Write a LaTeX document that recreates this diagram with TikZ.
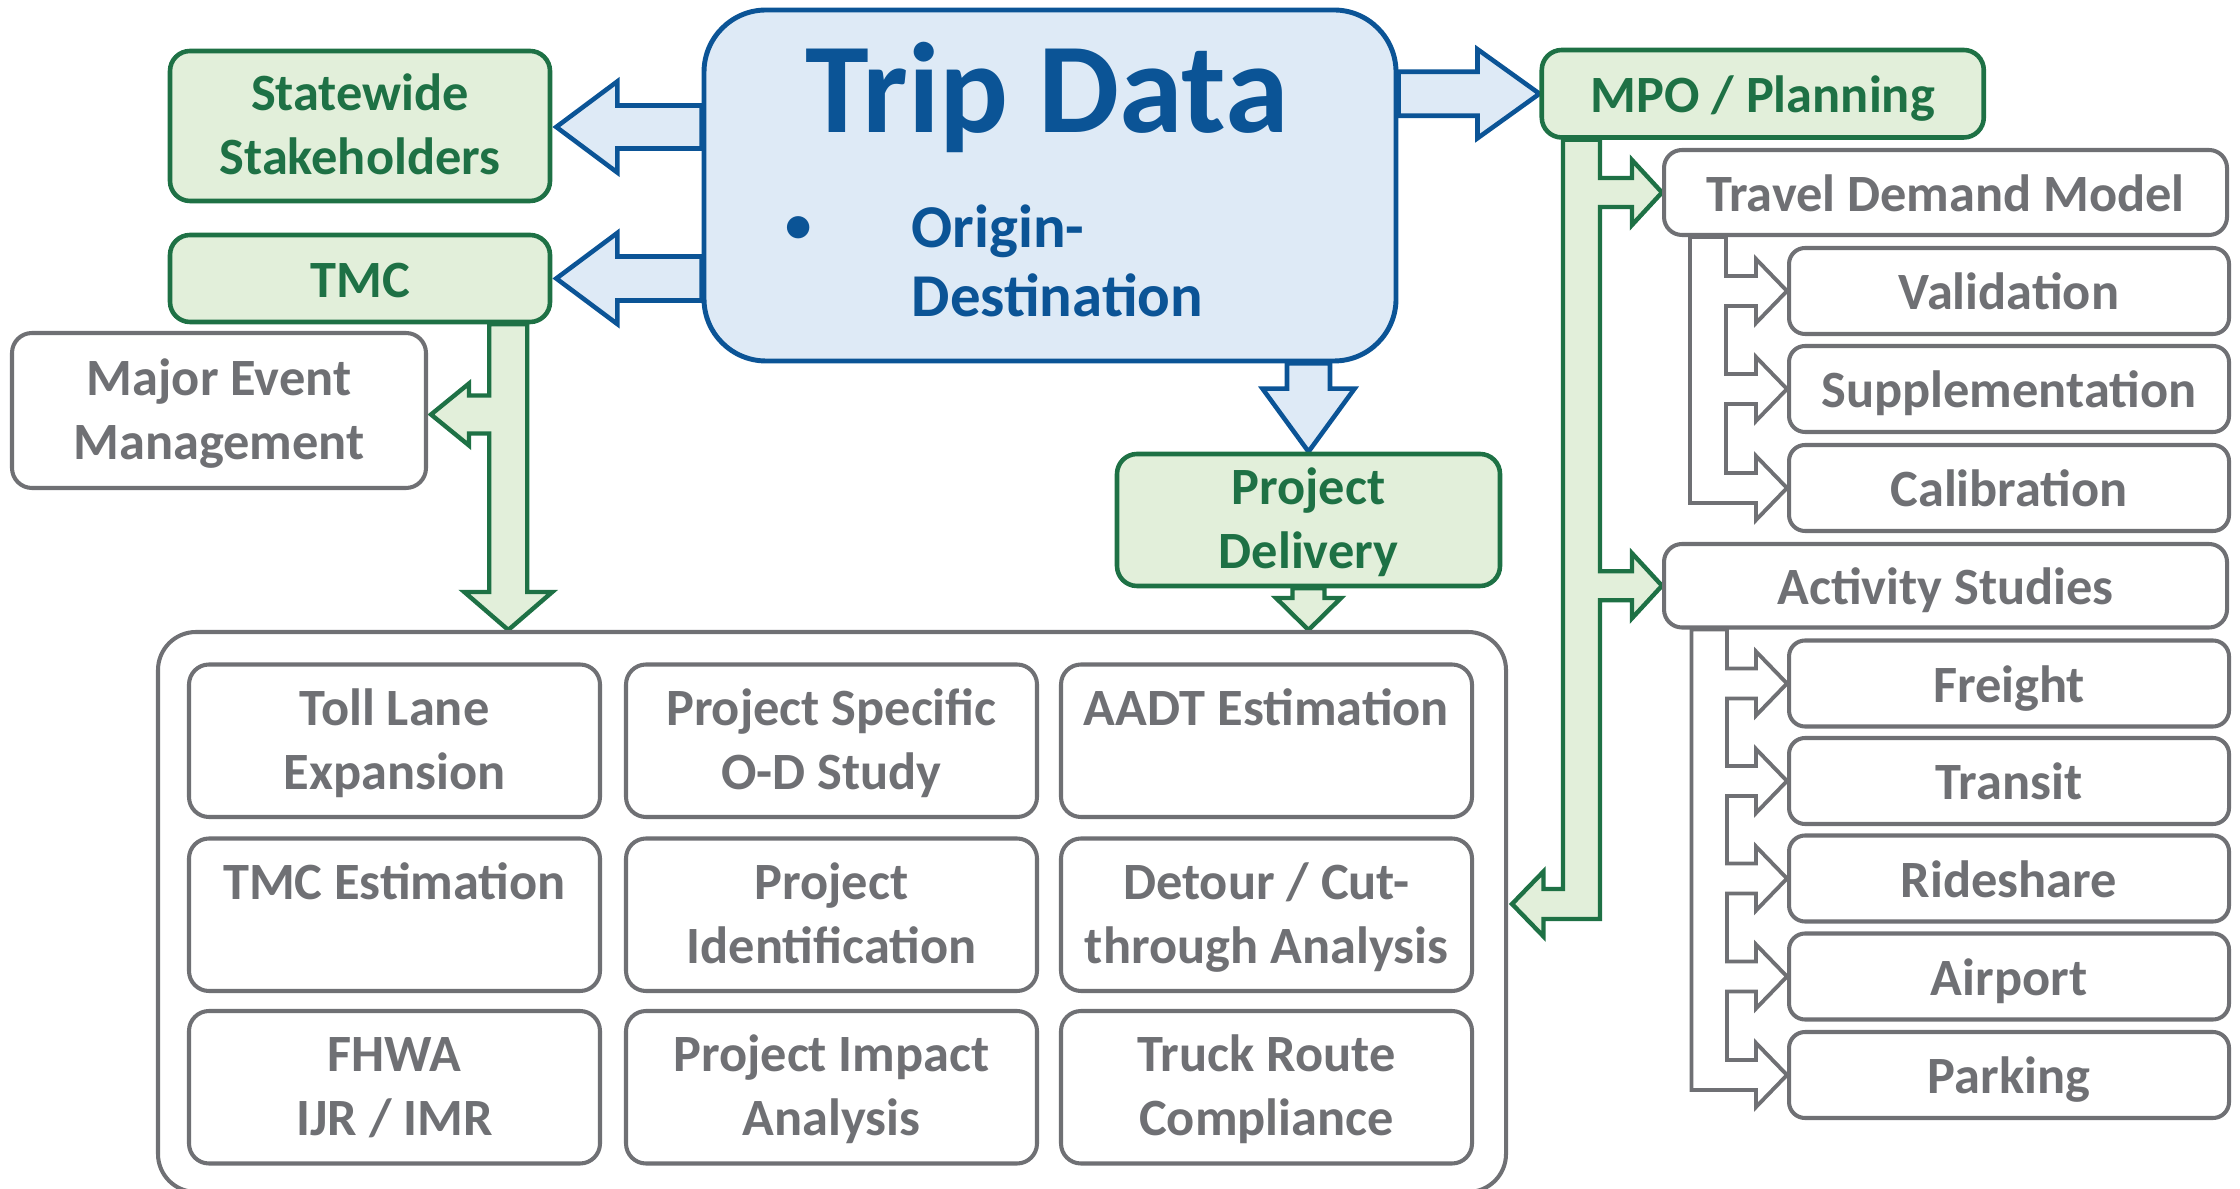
\documentclass[tikz,border=0pt]{standalone}
\usepackage{fontspec}
\setmainfont{Carlito}
\usetikzlibrary{calc,backgrounds}

\definecolor{tdblue}{HTML}{0B5496}
\definecolor{tdbluefill}{HTML}{DEEAF6}
\definecolor{tdgreen}{HTML}{1E7145}
\definecolor{tdgreenfill}{HTML}{E2EFDA}
\definecolor{tdgray}{HTML}{6F7074}

% struts giving every line the same height and depth (two-line and one-line labels)
\newcommand\lstrut{\rule[-3.13pt]{0pt}{15.65pt}}
\newcommand\sstrut{\rule[-2.56pt]{0pt}{15.65pt}}
\newcommand\boxfont{\fontsize{14.9pt}{18.2pt}\selectfont\bfseries}
\newcommand\odfont{\fontsize{17.3pt}{19.6pt}\selectfont\bfseries}
\newcommand\titlefont{\fontsize{36.6pt}{42pt}\selectfont\bfseries}

% horizontal block arrow: style, anchor giving the shaft start x, tip, shaft half, head half, head length (+ = right)
\newcommand\hblockarrow[6]{%
  \draw[#1] ($(#2 |- #3)+(0,{-(#4)})$) -- ($(#3)+({-(#6)},{-(#4)})$) -- ($(#3)+({-(#6)},{-(#5)})$) -- (#3)
    -- ($(#3)+({-(#6)},#5)$) -- ($(#3)+({-(#6)},#4)$) -- ($(#2 |- #3)+(0,#4)$) -- cycle;}
% vertical block arrow pointing down: style, anchor giving the shaft start y, tip, shaft half, head half, head length
\newcommand\vblockarrow[6]{%
  \draw[#1] ($(#2 -| #3)+({-(#4)},0)$) -- ($(#3)+({-(#4)},{-(#6)})$) -- ($(#3)+({-(#5)},{-(#6)})$) -- (#3)
    -- ($(#3)+(#5,{-(#6)})$) -- ($(#3)+(#4,{-(#6)})$) -- ($(#2 -| #3)+(#4,0)$) -- cycle;}
% branch to the right out of a trunk's right edge (walked upwards)
\newcommand\rnotch[5]{-- ($(#1 |- #2)+(0,#3)$) -- ($(#2)+({-(#5)},#3)$) -- ($(#2)+({-(#5)},#4)$) -- (#2)
    -- ($(#2)+({-(#5)},{-(#4)})$) -- ($(#2)+({-(#5)},{-(#3)})$) -- ($(#1 |- #2)+(0,{-(#3)})$)}
% branch to the left out of a trunk's left edge (walked downwards)
\newcommand\lnotch[5]{-- ($(#1 |- #2)+(0,{-(#3)})$) -- ($(#2)+(#5,{-(#3)})$) -- ($(#2)+(#5,{-(#4)})$) -- (#2)
    -- ($(#2)+(#5,#4)$) -- ($(#2)+(#5,#3)$) -- ($(#1 |- #2)+(0,#3)$)}

\tikzset{
  boxsize/.style 2 args={minimum width=#1*0.01cm, minimum height=#2*0.01cm},
  greenbox/.style={draw=tdgreen, fill=tdgreenfill, line width=1.3pt, rounded corners=0.2cm,
    text=tdgreen, font=\boxfont, align=center, inner sep=0pt},
  graybox/.style={draw=tdgray, fill=white, line width=1.15pt, rounded corners=0.2cm,
    text=tdgray, font=\boxfont, align=center, inner sep=0pt},
  subbox/.style={graybox, rounded corners=0.16cm, boxsize={440}{86}},
  usebox/.style={graybox, boxsize={411}{152.5}},
  bluearrow/.style={draw=tdblue, fill=tdbluefill, line width=1.3pt},
  greenarrow/.style={draw=tdgreen, fill=tdgreenfill, line width=1.25pt},
  grayarrow/.style={draw=tdgray, fill=white, line width=1.1pt},
}

\begin{document}
\begin{tikzpicture}[x=0.01cm, y=-0.01cm]
\useasboundingbox (0,0) rectangle (2240,1189);

% central source box
\node[draw=tdblue, fill=tdbluefill, line width=1.4pt, rounded corners=0.62cm, boxsize={692}{351}, inner sep=0pt] (trip) at (1050,185.5) {};
\node[font=\titlefont, text=tdblue, anchor=base, inner sep=0pt] (title) at (1047,133) {Trip Data};
\node[font=\fontsize{15pt}{18pt}\selectfont\bfseries, text=tdblue, anchor=base, inner sep=0pt] (bullet) at (799,243) {•};
\node[font=\odfont, text=tdblue, anchor=base west, inner sep=0pt] (od) at (911,248) {\parbox[t]{4cm}{\raggedright Origin-\\Destination}};

% user groups
\node[greenbox, boxsize={380}{150}] (sw) at (360,126) {\lstrut Statewide\\\lstrut Stakeholders};
\node[greenbox, boxsize={380}{87}] (tmc) at (360,278.5) {\sstrut TMC};
\node[graybox, boxsize={414}{155}] (mev) at (219,410.5) {\lstrut Major Event\\\lstrut Management};
\node[greenbox, boxsize={442}{87.5}] (mpo) at (1762.75,93.75) {\sstrut MPO / Planning};
\node[greenbox, boxsize={383}{132}] (pd) at (1308.5,520) {\lstrut Project\\\lstrut Delivery};

% applications grid
\node[draw=tdgray, fill=white, line width=1.15pt, rounded corners=0.38cm, boxsize={1348}{560}, inner sep=0pt] (cont) at (832,912) {};
\node[usebox] (toll)    at (394.5,740.75) {\lstrut Toll Lane\\\lstrut Expansion};
\node[usebox] (odstudy) at (831.5,740.75) {\lstrut Project Specific\\\lstrut O-D Study};
\node[usebox] (aadt)    at (1266.5,740.75) {\lstrut AADT Estimation\\\lstrut};
\node[usebox] (tmcest)  at (394.5,914.75) {\lstrut TMC Estimation\\\lstrut};
\node[usebox] (projid)  at (831.5,914.75) {\lstrut Project\\\lstrut Identification};
\node[usebox] (detour)  at (1266.5,914.75) {\lstrut Detour / Cut-\\\lstrut through Analysis};
\node[usebox] (fhwa)    at (394.5,1087.25) {\lstrut FHWA\\\lstrut IJR / IMR};
\node[usebox] (impact)  at (831.5,1087.25) {\lstrut Project Impact\\\lstrut Analysis};
\node[usebox] (truck)   at (1266.5,1087.25) {\lstrut Truck Route\\\lstrut Compliance};

% planning applications
\node[graybox, rounded corners=0.18cm, boxsize={563}{85}] (tdm) at (1945.5,192.5) {\sstrut Travel Demand Model};
\node[subbox] (val) at (2009,291) {\sstrut Validation};
\node[subbox] (sup) at (2009,389) {\sstrut Supplementation};
\node[subbox] (cal) at (2009,488) {\sstrut Calibration};
\node[graybox, rounded corners=0.18cm, boxsize={563}{83.5}] (as) at (1945.5,585.75) {\sstrut Activity Studies};
\node[subbox] (frt) at (2009,683.5) {\sstrut Freight};
\node[subbox] (trn) at (2009,781) {\sstrut Transit};
\node[subbox] (rsh) at (2009,878.5) {\sstrut Rideshare};
\node[subbox] (apt) at (2009,976.5) {\sstrut Airport};
\node[subbox] (prk) at (2009,1075) {\sstrut Parking};

% connector end points
\coordinate (swTip) at ($(sw.east)+(4,1)$);
\coordinate (tmcTip) at ($(tmc.east)+(4,0)$);
\coordinate (pdTip) at (pd.south |- cont.north);
\coordinate (tmcL) at ($(tmc.south east)+(-63,0)$);
\coordinate (tmcR) at ($(tmc.south east)+(-25,0)$);
\coordinate (tmcMid) at ($(tmc.south east)+(-44,0)$);
\coordinate (tmcDown) at (tmcMid |- cont.north);
\coordinate (mevTip) at ($(mev.east)+(3,4)$);
\coordinate (mpoL) at ($(mpo.south west)+(23.5,0)$);
\coordinate (mpoR) at ($(mpo.south west)+(60.5,0)$);
\coordinate (mpoEnd) at ($(cont.north east)+(4,274)$);
\coordinate (tdmL) at ($(tdm.south west)+(28,0)$);
\coordinate (tdmR) at ($(tdm.south west)+(64,0)$);
\coordinate (asL) at ($(as.south west)+(29.5,0)$);
\coordinate (asR) at ($(as.south west)+(65,0)$);

\begin{scope}[on background layer]
  % from the source box
  \hblockarrow{bluearrow}{trip.west}{swTip}{21.5}{45.5}{-61}
  \hblockarrow{bluearrow}{trip.west}{tmcTip}{22}{45.5}{-61}
  \hblockarrow{bluearrow}{trip.east}{mpo.west}{22}{44.5}{62}
  \vblockarrow{bluearrow}{trip.south}{pd.north}{21.5}{46}{63}
  \vblockarrow{greenarrow}{pd.south}{pdTip}{16}{32.5}{32}

  % TMC trunk: branch to event management, then down to the grid
  \draw[greenarrow] (tmcL) \lnotch{tmcL}{mevTip}{19}{31}{38}
    -- ($(tmcL |- tmcDown)+(0,-38)$) -- ($(tmcDown)+(-44,-38)$) -- (tmcDown)
    -- ($(tmcDown)+(44,-38)$) -- ($(tmcR |- tmcDown)+(0,-38)$) -- (tmcR) -- cycle;

  % MPO trunk: branches to the model and activity studies, bends into the grid
  \draw[greenarrow] (mpoL) -- ($(mpoL |- mpoEnd)+(0,-15)$) -- ($(mpoEnd)+(31.5,-15)$)
    -- ($(mpoEnd)+(31.5,-32.5)$) -- (mpoEnd) -- ($(mpoEnd)+(31.5,32.5)$) -- ($(mpoEnd)+(31.5,15)$)
    -- ($(mpoR |- mpoEnd)+(0,15)$) \rnotch{mpoR}{as.west}{14.5}{32.5}{30}
    \rnotch{mpoR}{tdm.west}{14.5}{32.5}{30} -- (mpoR) -- cycle;

  % travel demand model brackets
  \draw[grayarrow] (tdmL) -- ($(tdmL |- cal.west)+(0,15)$) -- ($(cal.west)+(-31,15)$) -- ($(cal.west)+(-31,32)$)
    -- (cal.west) -- ($(cal.west)+(-31,-32)$) -- ($(cal.west)+(-31,-15)$) -- ($(tdmR |- cal.west)+(0,-15)$)
    \rnotch{tdmR}{sup.west}{15}{32}{31} \rnotch{tdmR}{val.west}{15}{32}{31} -- (tdmR) -- cycle;

  % activity studies brackets
  \draw[grayarrow] (asL) -- ($(asL |- prk.west)+(0,15)$) -- ($(prk.west)+(-31,15)$) -- ($(prk.west)+(-31,32)$)
    -- (prk.west) -- ($(prk.west)+(-31,-32)$) -- ($(prk.west)+(-31,-15)$) -- ($(asR |- prk.west)+(0,-15)$)
    \rnotch{asR}{apt.west}{15}{32}{31} \rnotch{asR}{rsh.west}{15}{32}{31}
    \rnotch{asR}{trn.west}{15}{32}{31} \rnotch{asR}{frt.west}{15}{32}{31} -- (asR) -- cycle;
\end{scope}
\end{tikzpicture}
\end{document}
